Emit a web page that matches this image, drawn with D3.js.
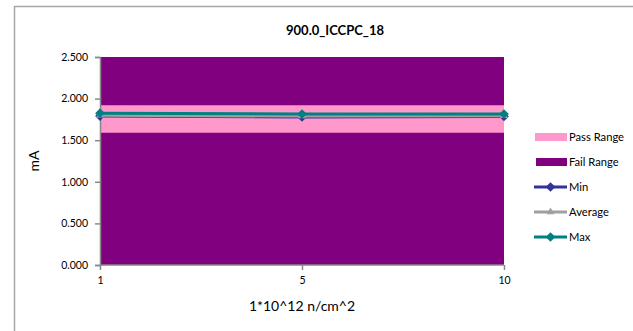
<!DOCTYPE html>
<html><head><meta charset="utf-8">
<script src="https://cdn.jsdelivr.net/npm/d3@7"></script>
<style>body{margin:0;background:#fff;}svg{display:block;font-family:Lato,"Open Sans",sans-serif;}</style>
</head><body>
<svg id="c" width="633" height="331"></svg>
<script>
const categories = ["1", "5", "10"];
const passLow = [1.59, 1.59, 1.59];
const passHigh = [1.92, 1.92, 1.92];
const failTop = [2.5, 2.5, 2.5];
const minVals = [1.79, 1.78, 1.785];
const avgVals = [1.80, 1.79, 1.795];
const maxVals = [1.825, 1.815, 1.815];
const yTicks = [0, 0.5, 1.0, 1.5, 2.0, 2.5];
const legendLabels = ["Pass Range", "Fail Range", "Min", "Average", "Max"];

const svg = d3.select("#c");
svg.append("rect").attr("x", 14.5).attr("y", 6.5).attr("width", 700).attr("height", 400)
  .attr("fill", "#fff").attr("stroke", "#a6a6a6").attr("stroke-width", 1.5);

const x = d3.scalePoint().domain(categories).range([100, 504]);
const y = d3.scaleLinear().domain([0, 2.5]).range([265, 57]);

const idx = categories.map((c, i) => i);
const failArea = d3.area().x(i => x(categories[i])).y0(y(0)).y1(i => y(failTop[i]));
svg.append("path").attr("d", failArea(idx)).attr("fill", "#800080");
const passArea = d3.area().x(i => x(categories[i])).y0(i => y(passLow[i])).y1(i => y(passHigh[i]));
svg.append("path").attr("d", passArea(idx)).attr("fill", "#ff99cc");

const yAxis = d3.axisLeft(y).tickValues(yTicks).tickFormat(d3.format(".3f")).tickSize(5).tickPadding(7);
const gy = svg.append("g").attr("transform", "translate(100,0)").call(yAxis);
gy.selectAll("path,line").attr("stroke", "#888").attr("stroke-width", 1.5);
gy.selectAll("text").attr("font-size", 10.5).attr("fill", "#000").attr("font-family", "Lato");

const xAxis = d3.axisBottom(x).tickSize(5).tickPadding(7);
const gx = svg.append("g").attr("transform", "translate(0,265)").call(xAxis);
gx.select(".domain").attr("d", "M100,0H504");
gx.selectAll("path,line").attr("stroke", "#888").attr("stroke-width", 1.5);
gx.selectAll("text").attr("font-size", 10.5).attr("fill", "#000").attr("font-family", "Lato");

const series = [
  {name: "Min", vals: minVals, color: "#333399", marker: "diamond"},
  {name: "Average", vals: avgVals, color: "#a0a0a0", marker: "triangle"},
  {name: "Max", vals: maxVals, color: "#008080", marker: "diamond"}
];
const line = d3.line().x((d, i) => x(categories[i])).y(d => y(d));
const sym = m => d3.symbol().type(m === "diamond" ? d3.symbolDiamond2 : d3.symbolTriangle2).size(m === "diamond" ? 60 : 45)();
series.forEach(s => {
  svg.append("path").attr("d", line(s.vals)).attr("fill", "none").attr("stroke", s.color).attr("stroke-width", 3);
  s.vals.forEach((v, i) => {
    svg.append("path").attr("d", sym(s.marker))
      .attr("transform", `translate(${x(categories[i])},${y(v)})`).attr("fill", s.color);
  });
});

svg.append("text").attr("x", 335).attr("y", 35).attr("text-anchor", "middle")
  .attr("font-size", 13).attr("font-weight", "bold").text("900.0_ICCPC_18");
svg.append("text").attr("transform", "translate(39,161) rotate(-90)").attr("text-anchor", "middle")
  .attr("font-size", 14).text("mA");
svg.append("text").attr("x", 302).attr("y", 311).attr("text-anchor", "middle")
  .attr("font-size", 14).text("1*10^12 n/cm^2");

const legY = [137, 162, 187, 212, 237];
const lg = svg.append("g");
legendLabels.forEach((lab, i) => {
  const yy = legY[i];
  if (i === 0) lg.append("rect").attr("x", 535).attr("y", yy - 4).attr("width", 32).attr("height", 8).attr("fill", "#ff99cc");
  else if (i === 1) lg.append("rect").attr("x", 536).attr("y", yy - 4).attr("width", 31).attr("height", 8).attr("fill", "#800080");
  else {
    const s = series[i - 2];
    lg.append("line").attr("x1", 534).attr("x2", 567).attr("y1", yy).attr("y2", yy).attr("stroke", s.color).attr("stroke-width", 3);
    lg.append("path").attr("d", sym(s.marker)).attr("transform", `translate(550.5,${yy})`).attr("fill", s.color);
  }
  lg.append("text").attr("x", 569).attr("y", yy + 4).attr("font-size", 11.2).text(lab);
});
</script>
</body></html>
